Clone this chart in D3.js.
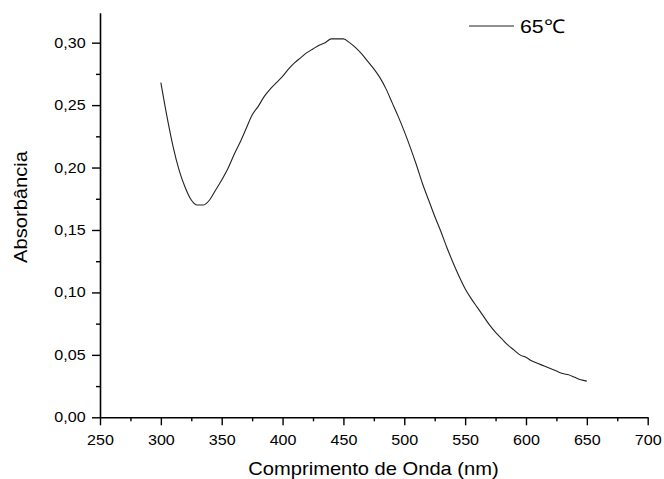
<!DOCTYPE html>
<html>
<head>
<meta charset="utf-8">
<script src="https://cdn.jsdelivr.net/npm/d3@7"></script>
<style>
  html, body { margin: 0; padding: 0; background: #fff; }
  svg { display: block; }
  text { font-family: "Liberation Sans", Arial, sans-serif; fill: #000; }
</style>
</head>
<body>
<svg id="chart" width="664" height="479"></svg>
<script>
const wavelength = [300,305,310,315,320,325,330,335,340,345,350,355,360,365,370,375,380,385,390,395,400,405,410,415,420,425,430,435,440,445,450,455,460,465,470,475,480,485,490,495,500,505,510,515,520,525,530,535,540,545,550,555,560,565,570,575,580,585,590,595,600,605,610,615,620,625,630,635,640,645,650];
const absorbance = [0.268,0.241,0.217,0.198,0.184,0.174,0.170,0.170,0.174,0.182,0.190,0.199,0.210,0.220,0.231,0.242,0.249,0.257,0.263,0.268,0.273,0.279,0.284,0.288,0.292,0.295,0.298,0.300,0.303,0.303,0.303,0.300,0.296,0.291,0.285,0.279,0.272,0.263,0.252,0.241,0.229,0.216,0.202,0.187,0.174,0.161,0.149,0.136,0.124,0.113,0.103,0.095,0.088,0.081,0.074,0.068,0.063,0.058,0.054,0.050,0.048,0.045,0.043,0.041,0.039,0.037,0.035,0.034,0.032,0.030,0.029];
const xTicks = [250,300,350,400,450,500,550,600,650,700];
const xMinorTicks = [275,325,375,425,475,525,575,625,675];
const yTicks = [0.00,0.05,0.10,0.15,0.20,0.25,0.30];
const yMinorTicks = [0.025,0.075,0.125,0.175,0.225,0.275];
const seriesName = "65\u2103";
const xTitle = "Comprimento de Onda (nm)";
const yTitle = "Absorbância";

(function () {
const svg = d3.select("#chart");
const mLeft = 100, mRight = 647.7, mTop = 12.7, mBottom = 417.3;
const sx = 1.15;

const x = d3.scaleLinear().domain([250, 700]).range([mLeft, mRight]);
const y = d3.scaleLinear().domain([0, 0.324]).range([mBottom, mTop]);

const fmtY = v => d3.format(".2f")(v).replace(".", ",");

// minor ticks
svg.append("g").attr("transform", `translate(0,${mBottom})`)
  .call(d3.axisBottom(x).tickValues(xMinorTicks).tickSize(4).tickSizeOuter(0).tickFormat(""))
  .call(g => g.select(".domain").remove());
svg.append("g").attr("transform", `translate(${mLeft},0)`)
  .call(d3.axisLeft(y).tickValues(yMinorTicks).tickSize(4).tickSizeOuter(0).tickFormat(""))
  .call(g => g.select(".domain").remove());

// major axes
const gx = svg.append("g").attr("transform", `translate(0,${mBottom})`)
  .call(d3.axisBottom(x).tickValues(xTicks).tickSize(8).tickSizeOuter(0).tickFormat(d3.format("d")));
gx.selectAll("text").attr("y", 17.5).attr("font-size", 14).attr("transform", `scale(${sx},1)`)
  .style("font-family", '"Liberation Sans", Arial, sans-serif');

const gy = svg.append("g").attr("transform", `translate(${mLeft},0)`)
  .call(d3.axisLeft(y).tickValues(yTicks).tickSize(8).tickSizeOuter(0).tickFormat(fmtY));
gy.selectAll("text").attr("x", -12.5).attr("font-size", 14).attr("transform", `scale(${sx},1)`)
  .style("font-family", '"Liberation Sans", Arial, sans-serif');

svg.selectAll(".domain").attr("stroke", "#000").attr("stroke-width", 1.6);
svg.selectAll(".tick line").attr("stroke", "#000").attr("stroke-width", 1.4);

// line
const line = d3.line().x((d, i) => x(wavelength[i])).y(d => y(d)).curve(d3.curveMonotoneX);
svg.append("path").datum(absorbance)
  .attr("d", line).attr("fill", "none").attr("stroke", "#222").attr("stroke-width", 1.1);

// titles
svg.append("text").attr("transform", `translate(373.5,475) scale(${sx},1)`)
  .attr("text-anchor", "middle").attr("font-size", 17.5).text(xTitle);
svg.append("text").attr("transform", `translate(27,207) rotate(-90) scale(${sx},1)`)
  .attr("text-anchor", "middle").attr("font-size", 17.5).text(yTitle);

// legend
svg.append("line").attr("x1", 469).attr("x2", 514).attr("y1", 26).attr("y2", 26)
  .attr("stroke", "#222").attr("stroke-width", 1.1);
svg.append("text").attr("transform", "translate(520,33) scale(1.12,1)")
  .attr("font-size", 19).text(seriesName);
})();
</script>
</body>
</html>
